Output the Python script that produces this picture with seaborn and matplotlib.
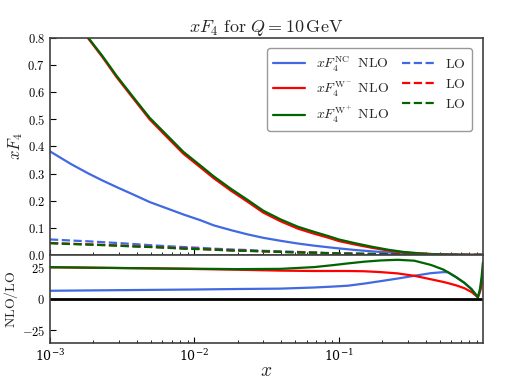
import matplotlib
matplotlib.use("Agg")
import matplotlib.pyplot as plt
import seaborn as sns
import numpy as np
from matplotlib.ticker import FormatStrFormatter, LogLocator, NullFormatter

# x values for the top panel (structure functions xF4)
x_top = [0.001, 0.0014, 0.00185, 0.0023, 0.0029, 0.0038, 0.0049, 0.0065, 0.0084,
         0.011, 0.0136, 0.018, 0.0232, 0.03, 0.0395, 0.052, 0.0675, 0.085, 0.1,
         0.13, 0.17, 0.22, 0.28, 0.36, 0.45, 0.6, 0.8, 1.0]
nc_nlo = [0.382, 0.335, 0.300, 0.275, 0.250, 0.222, 0.195, 0.171, 0.149,
          0.128, 0.109, 0.091, 0.076, 0.063, 0.052, 0.042, 0.034, 0.028, 0.024,
          0.018, 0.013, 0.009, 0.006, 0.004, 0.002, 0.001, 0.0, 0.0]
wm_nlo = [0.998, 0.888, 0.797, 0.731, 0.655, 0.575, 0.500, 0.433, 0.373,
          0.323, 0.283, 0.236, 0.197, 0.156, 0.124, 0.097, 0.078, 0.063, 0.051,
          0.038, 0.026, 0.016, 0.009, 0.005, 0.002, 0.0005, 0.0, 0.0]
wp_nlo = [1.0, 0.890, 0.800, 0.735, 0.660, 0.580, 0.506, 0.440, 0.380,
          0.330, 0.290, 0.243, 0.204, 0.163, 0.131, 0.104, 0.085, 0.069, 0.057,
          0.043, 0.030, 0.019, 0.011, 0.006, 0.003, 0.001, 0.0, 0.0]
nc_lo = [0.057, 0.053, 0.050, 0.047, 0.044, 0.040, 0.036, 0.032, 0.029,
         0.026, 0.023, 0.020, 0.018, 0.015, 0.013, 0.011, 0.009, 0.007, 0.006,
         0.005, 0.004, 0.003, 0.002, 0.001, 0.0008, 0.0003, 0.0, 0.0]
wm_lo = [0.044, 0.041, 0.039, 0.037, 0.035, 0.032, 0.030, 0.027, 0.024,
         0.022, 0.020, 0.017, 0.015, 0.013, 0.011, 0.009, 0.008, 0.006, 0.005,
         0.004, 0.003, 0.002, 0.0015, 0.001, 0.0006, 0.0002, 0.0, 0.0]
wp_lo = [0.043, 0.040, 0.038, 0.036, 0.034, 0.031, 0.029, 0.026, 0.023,
         0.021, 0.019, 0.016, 0.015, 0.013, 0.011, 0.009, 0.008, 0.006, 0.005,
         0.004, 0.003, 0.002, 0.0015, 0.001, 0.0006, 0.0002, 0.0, 0.0]

# ratio NLO/LO
x_rat = [0.001, 0.002, 0.005, 0.01, 0.02, 0.0395, 0.0675, 0.09, 0.115, 0.15,
         0.196, 0.255, 0.333, 0.435, 0.53, 0.569, 0.65, 0.741, 0.83, 0.918,
         0.95, 0.975, 0.995]
nc_rat = [6.5, 6.8, 7.2, 7.5, 7.9, 8.2, 9.1, 9.8, 10.5, 12.2,
          14.2, 16.2, 18.4, 20.5, 21.3, 21.2, 17.2, 12.7, 7.7, 1.3,
          6.0, 12.0, 19.0]
wm_rat = [25.2, 24.8, 24.3, 23.8, 23.2, 22.5, 22.2, 22.2, 22.2, 22.0,
          21.3, 20.3, 18.4, 15.6, 13.5, 12.6, 10.8, 8.5, 5.5, 1.4,
          6.0, 12.0, 19.0]
wp_rat = [25.2, 24.8, 24.3, 24.0, 23.7, 23.9, 25.3, 26.8, 28.2, 29.6,
          30.6, 31.1, 30.4, 27.0, 23.3, 21.3, 17.3, 12.8, 7.8, 1.4,
          8.0, 18.0, 29.0]

colors = {"NC": "royalblue", "Wm": "red", "Wp": "darkgreen"}

sns.set_style("ticks")
plt.rcParams["mathtext.fontset"] = "cm"
plt.rcParams["font.family"] = ["DejaVu Serif"]

fig = plt.figure(figsize=(5.08, 3.81), dpi=100)
ax1 = fig.add_axes([0.0984, 0.331, 0.8526, 0.569])
ax2 = fig.add_axes([0.0984, 0.0997, 0.8526, 0.2313], sharex=ax1)

# top panel
sns.lineplot(x=x_top, y=nc_nlo, ax=ax1, color=colors["NC"], lw=1.6,
             label=r"$xF_4^{\mathrm{NC}}\ \ \mathrm{NLO}$")
sns.lineplot(x=x_top, y=wm_nlo, ax=ax1, color=colors["Wm"], lw=1.6,
             label=r"$xF_4^{\mathrm{W}^-}\ \mathrm{NLO}$")
sns.lineplot(x=x_top, y=wp_nlo, ax=ax1, color=colors["Wp"], lw=1.6,
             label=r"$xF_4^{\mathrm{W}^+}\ \mathrm{NLO}$")
sns.lineplot(x=x_top, y=nc_lo, ax=ax1, color=colors["NC"], lw=1.6,
             linestyle="--", label=r"$\mathrm{LO}$")
sns.lineplot(x=x_top, y=wm_lo, ax=ax1, color=colors["Wm"], lw=1.6,
             linestyle="--", label=r"$\mathrm{LO}$")
sns.lineplot(x=x_top, y=wp_lo, ax=ax1, color=colors["Wp"], lw=1.6,
             linestyle="--", label=r"$\mathrm{LO}$")

ax1.set_xscale("log")
ax1.set_ylim(0, 0.8)
ax1.set_yticks(np.arange(0, 0.81, 0.1))
ax1.yaxis.set_major_formatter(FormatStrFormatter(r"$%.1f$"))
ax1.set_ylabel(r"$xF_4$", fontsize=12, labelpad=2)
ax1.set_title(r"$xF_4\ \mathrm{for}\ Q = 10\,\mathrm{GeV}$", fontsize=13, pad=4)
ax1.tick_params(labelbottom=False)
ax1.legend(ncol=2, loc="upper right", fontsize=10, frameon=True,
           edgecolor="gray", fancybox=True, handlelength=2.3,
           columnspacing=0.9, borderpad=0.45, labelspacing=0.42,
           bbox_to_anchor=(0.99, 0.985))

# bottom panel
sns.lineplot(x=x_rat, y=nc_rat, ax=ax2, color=colors["NC"], lw=1.6)
sns.lineplot(x=x_rat, y=wm_rat, ax=ax2, color=colors["Wm"], lw=1.6)
sns.lineplot(x=x_rat, y=wp_rat, ax=ax2, color=colors["Wp"], lw=1.6)
ax2.axhline(0, color="black", lw=2)
ax2.set_ylim(-35, 35)
ax2.set_yticks([-25, 0, 25])
ax2.yaxis.set_major_formatter(FormatStrFormatter(r"$%d$"))
ax2.set_ylabel(r"$\mathrm{NLO/LO}$", fontsize=10, labelpad=1)
ax2.set_xlabel(r"$x$", fontsize=14, labelpad=-1)
ax2.set_xlim(1e-3, 0.998)

for ax in (ax1, ax2):
    ax.xaxis.set_minor_locator(LogLocator(base=10, subs=np.arange(2, 10), numticks=20))
    ax.xaxis.set_minor_formatter(NullFormatter())
    ax.tick_params(which="both", direction="in", labelsize=9, colors="black")
    ax.tick_params(which="major", length=4)
    ax.tick_params(which="minor", length=2)
    for s in ax.spines.values():
        s.set_color("#404040")
        s.set_linewidth(1.2)

fig.savefig("out.png", dpi=100)
